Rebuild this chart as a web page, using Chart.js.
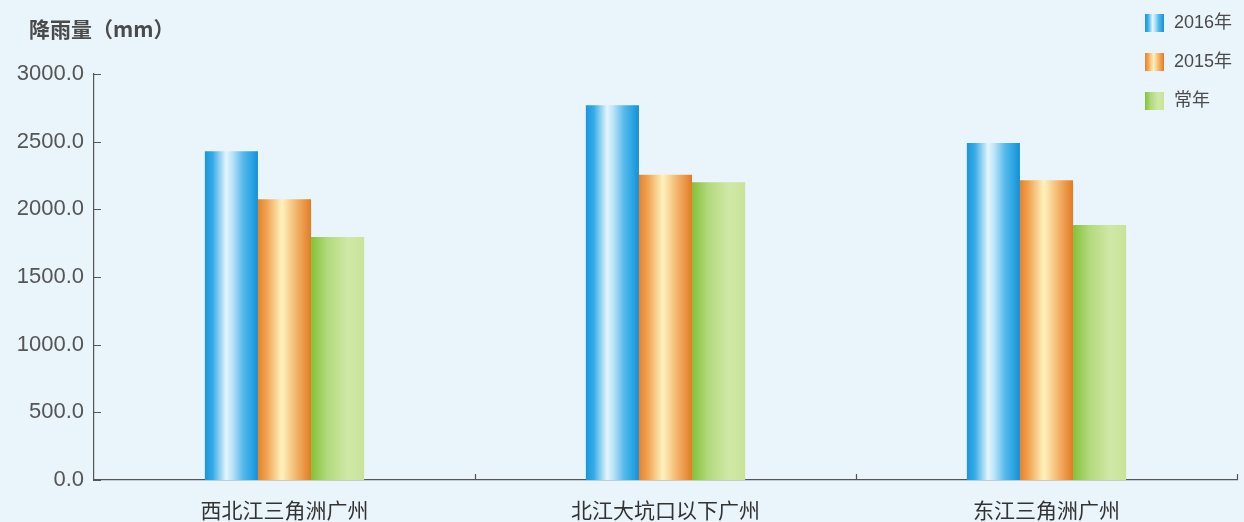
<!DOCTYPE html>
<html>
<head>
<meta charset="utf-8">
<script src="https://cdn.jsdelivr.net/npm/chart.js@4"></script>
<style>
  html, body { margin: 0; padding: 0; background: #eaf4fb; }
  #wrap { width: 1244px; height: 522px; }
</style>
</head>
<body>
<div id="wrap"><canvas id="rain-chart"></canvas></div>
<script>
const regions = ['西北江三角洲广州', '北江大坑口以下广州', '东江三角洲广州'];
const seriesNames = ['2016年', '2015年', '常年'];
const rain2016 = [2430, 2770, 2490];
const rain2015 = [2075, 2255, 2215];
const rainNormal = [1795, 2200, 1885];
const yTicks = [0, 500, 1000, 1500, 2000, 2500, 3000];

// colour stops across each bar (left -> right)
const barStops = [
    [[0, '#1a95db'], [0.15, '#36abe7'], [0.4, '#e4f5fd'], [0.52, '#b9e3f8'], [0.72, '#55b9eb'], [0.9, '#26a2e2'], [1, '#1a8dd5']],
    [[0, '#e6832a'], [0.15, '#efa04d'], [0.45, '#fff2bd'], [0.75, '#f2ae63'], [1, '#e27b24']],
    [[0, '#84c138'], [0.3, '#b2d97c'], [0.7, '#d0e8a7'], [1, '#c8e398']]
];
const baseColors = ['#29a3e2', '#ee9a45', '#b5d97d'];

function makeGradient(ctx, x0, x1, stops) {
    const g = ctx.createLinearGradient(x0, 0, x1, 0);
    stops.forEach(s => g.addColorStop(s[0], s[1]));
    return g;
}

// paint every bar with a horizontal gradient once positions are known
const barGradients = {
    id: 'barGradients',
    beforeDatasetsDraw(chart) {
        const ctx = chart.ctx;
        chart.data.datasets.forEach((ds, i) => {
            chart.getDatasetMeta(i).data.forEach(bar => {
                const half = bar.width / 2;
                bar.options.backgroundColor = makeGradient(ctx, bar.x - half, bar.x + half, barStops[i]);
            });
        });
    }
};

// axis ticks pointing inward, title and legend
const decorations = {
    id: 'decorations',
    afterDraw(chart) {
        const ctx = chart.ctx;
        const area = chart.chartArea;
        const y = chart.scales.y;
        const x = chart.scales.x;
        ctx.save();
        ctx.strokeStyle = '#555';
        ctx.lineWidth = 1.2;
        ctx.beginPath();
        yTicks.forEach(v => {
            const py = Math.round(y.getPixelForValue(v)) + 0.5;
            ctx.moveTo(area.left, py);
            ctx.lineTo(area.left + 7, py);
        });
        for (let i = 1; i <= regions.length; i++) {
            const px = Math.round(x.getPixelForValue(i - 0.5)) + 0.5;
            ctx.moveTo(px, area.bottom);
            ctx.lineTo(px, area.bottom - 6);
        }
        ctx.stroke();

        ctx.fillStyle = '#4a4a4a';
        ctx.font = 'bold 21px "Noto Sans CJK SC"';
        ctx.textBaseline = 'middle';
        ctx.fillText('降雨量（mm）', 29, 29);

        ctx.font = '18px "Liberation Sans", "Noto Sans CJK SC"';
        seriesNames.forEach((name, i) => {
            const cy = 23 + i * 39;
            ctx.fillStyle = makeGradient(ctx, 1145, 1164, barStops[i]);
            ctx.fillRect(1145, cy - 9, 19, 18);
            ctx.fillStyle = '#4a4a4a';
            ctx.fillText(name, 1174, cy);
        });
        ctx.restore();
    }
};

const ctx = document.getElementById('rain-chart').getContext('2d');
new Chart(ctx, {
    type: 'bar',
    data: {
        labels: regions,
        datasets: [rain2016, rain2015, rainNormal].map((values, i) => ({
            label: seriesNames[i],
            data: values,
            backgroundColor: () => baseColors[i],
            borderWidth: 0,
            categoryPercentage: 0.418,
            barPercentage: 1.0
        }))
    },
    options: {
        responsive: true,
        maintainAspectRatio: false,
        animation: false,
        layout: { padding: { top: 74, right: 7, left: 0, bottom: 0 } },
        plugins: {
            legend: { display: false },
            tooltip: { enabled: false }
        },
        scales: {
            y: {
                min: 0,
                max: 3000,
                afterFit: scale => { scale.width = 94; },
                afterBuildTicks: scale => { scale.ticks = yTicks.map(v => ({ value: v })); },
                border: { color: '#555', width: 1.2 },
                grid: { display: false, drawTicks: false },
                ticks: {
                    padding: 10,
                    color: '#555',
                    font: { family: '"Liberation Sans", Arial', size: 22 },
                    callback: v => v.toFixed(1)
                }
            },
            x: {
                afterFit: scale => { scale.height = 42; },
                border: { color: '#555', width: 1.2 },
                grid: { display: false, drawTicks: false },
                ticks: {
                    padding: 17,
                    color: '#333',
                    font: { family: '"Noto Sans CJK SC"', size: 21 }
                }
            }
        }
    },
    plugins: [barGradients, decorations]
});
</script>
</body>
</html>
